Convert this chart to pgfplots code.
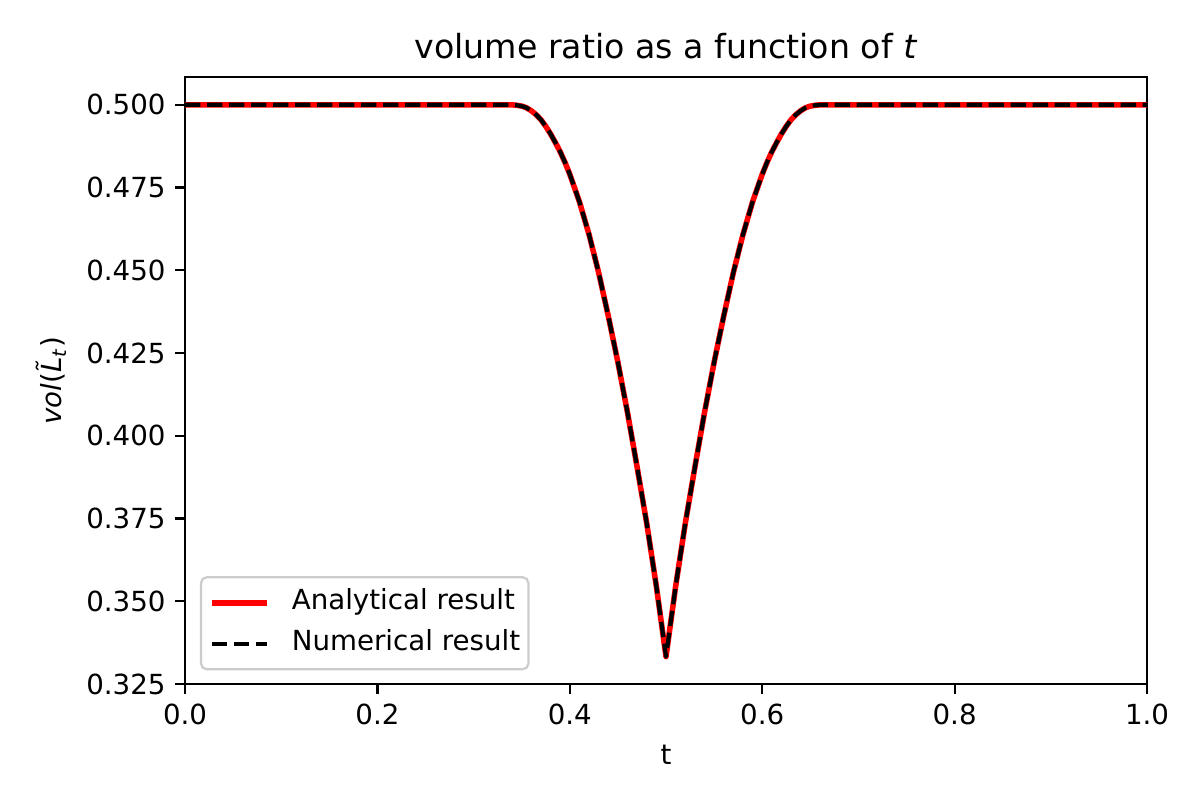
\documentclass[border=0pt]{standalone}
\usepackage{fontspec}
\setmainfont{DejaVu Sans}
\usepackage{pgfplots}
\pgfplotsset{compat=1.18}
\usepackage{pgfplotstable}

% volume ratio
\pgfplotstableread{
t     v
0.0    0.5000
0.3333 0.5000
0.34   0.49998
0.345  0.49985
0.35   0.4996
0.355  0.4991
0.36   0.4982
0.365  0.4970
0.37   0.4955
0.375  0.4935
0.38   0.4912
0.385  0.4886
0.39   0.4858
0.395  0.4826
0.40   0.4790
0.41   0.4707
0.42   0.4608
0.43   0.4493
0.44   0.4362
0.45   0.4222
0.46   0.4070
0.47   0.3905
0.48   0.3735
0.49   0.3545
0.50   0.3333
0.51   0.3545
0.52   0.3735
0.53   0.3905
0.54   0.4070
0.55   0.4222
0.56   0.4362
0.57   0.4493
0.58   0.4608
0.59   0.4707
0.60   0.4790
0.605  0.4826
0.61   0.4858
0.615  0.4886
0.62   0.4912
0.625  0.4935
0.63   0.4955
0.635  0.4970
0.64   0.4982
0.645  0.4991
0.65   0.4996
0.655  0.49985
0.66   0.49998
0.6667 0.5000
1.0    0.5000
}\voldata

\begin{document}
\begin{tikzpicture}
\useasboundingbox (-66.85pt,-41.9pt) rectangle (366.75pt,247.2pt);
\begin{axis}[
  scale only axis, width=347.6pt, height=219.3pt,
  xmin=0, xmax=1, ymin=0.325, ymax=0.50833,
  xtick={0,0.2,0.4,0.6,0.8,1.0},
  ytick={0.325,0.350,0.375,0.400,0.425,0.450,0.475,0.500},
  x tick label style={/pgf/number format/.cd, fixed, fixed zerofill, precision=1},
  y tick label style={/pgf/number format/.cd, fixed, fixed zerofill, precision=3},
  /pgf/number format/assume math mode=true,
  tick align=outside, tick pos=left,
  major tick length=3.5pt,
  every tick/.style={black, line width=0.8pt},
  axis line style={line width=0.8pt},
  ticklabel style={font=\fontsize{10}{12}\selectfont},
  title={volume ratio as a function of \textit{t}},
  title style={font=\fontsize{12}{14}\selectfont, at={(axis description cs:0.5,1)}, anchor=base, yshift=0.8pt},
  xlabel={t},
  xlabel style={font=\fontsize{10}{12}\selectfont, at={(axis description cs:0.5,0)}, anchor=base, yshift=-29pt},
  ylabel={\textit{vol}(\textit{\~{L}}\textsubscript{\textit{t}})},
  ylabel style={font=\fontsize{10}{12}\selectfont, at={(axis description cs:-0.128,0.5)}, anchor=base},
  legend image code/.code={\draw[#1] (0pt,0pt) -- (20pt,0pt);},
  legend cell align=left,
  legend style={at={(axis description cs:0,0)}, anchor=south west, xshift=5.4pt, yshift=5pt,
    draw=black!20, line width=0.8pt, rounded corners=2pt, fill=white, fill opacity=0.8, text opacity=1,
    font=\fontsize{10}{12}\selectfont, inner xsep=3pt, inner ysep=4.3pt, row sep=5pt,
    nodes={inner xsep=0pt, inner ysep=0pt, text height=7.5pt, text depth=2.3pt},
    /tikz/every odd column/.append style={column sep=7.8pt},
    /tikz/every even column/.append style={column sep=5pt}},
]
\addplot[red, line width=2pt, line join=round] table[x=t, y=v] {\voldata};
\addlegendentry{Analytical result}
\addplot[black, line width=1.5pt, line join=round, dash pattern=on 5.55pt off 2.4pt] table[x=t, y=v] {\voldata};
\addlegendentry{Numerical result}
\end{axis}
\end{tikzpicture}
\end{document}
